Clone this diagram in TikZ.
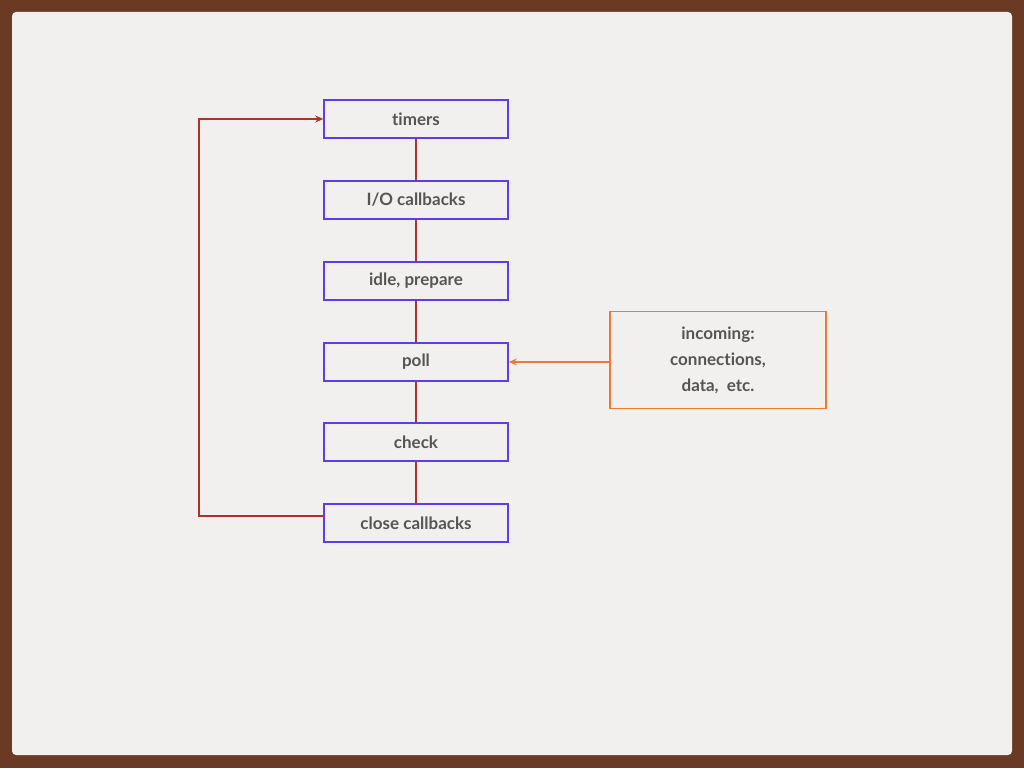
\documentclass[tikz,border=0pt]{standalone}
\usepackage{fontspec}
\setmainfont[Ligatures=NoCommon]{Lato}
\usetikzlibrary{arrows.meta}
\definecolor{frame}{HTML}{6B3A24}
\definecolor{paper}{HTML}{F1F0EE}
\definecolor{boxc}{HTML}{5B3DEE}
\definecolor{linec}{HTML}{B0302A}
\definecolor{orng}{HTML}{F07A32}
\definecolor{txt}{HTML}{555555}
\tikzset{
  stage/.style={draw=boxc, line width=1.6pt, minimum width=184pt, minimum height=38pt, inner sep=0pt, font=\bfseries\fontsize{17}{19}\selectfont, text=txt},
  link/.style={draw=linec, line width=1.2pt},
}
\begin{document}
\begin{tikzpicture}[x=1pt,y=-1pt]
\fill[frame] (0,0) rectangle (1024,768);
\fill[paper, rounded corners=4pt] (12,12) rectangle (1012,755);
\useasboundingbox (0,0) rectangle (1024,768);
\node[stage] (t) at (416,119) {timers};
\node[stage] (io) at (416,200) {I/O callbacks};
\node[stage] (ip) at (416,281) {idle, prepare};
\node[stage] (p) at (416,362) {poll};
\node[stage] (c) at (416,442) {check};
\node[stage] (cc) at (416,523) {close callbacks};
\node[draw=orng, line width=1.6pt, minimum width=216pt, minimum height=97pt, align=center, text=txt, font=\bfseries\fontsize{17}{26}\selectfont] (in) at (718,360) {incoming:\\connections,\\data,\ \ etc.};
\draw[link] (t) -- (io);
\draw[link] (io) -- (ip);
\draw[link] (ip) -- (p);
\draw[link] (p) -- (c);
\draw[link] (c) -- (cc);
\coordinate (a) at (199,516);
\coordinate (b) at (199,119);
\draw[link, -{Stealth[length=8pt,width=7pt]}] (cc.west |- a) -- (a) -- (b) -- (t.west);
\draw[draw=orng, line width=1.2pt, -{Stealth[length=8pt,width=7pt]}] (in.west |- p.east) -- (p.east);
\end{tikzpicture}
\end{document}
